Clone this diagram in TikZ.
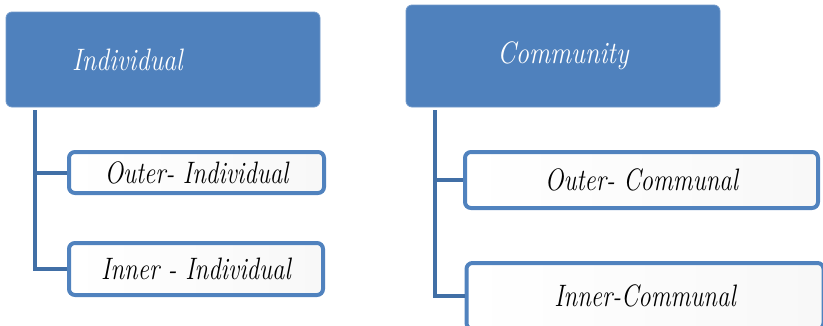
\documentclass[tikz,border=0pt]{standalone}
\begin{document}
\definecolor{headblue}{HTML}{4F81BD}
\definecolor{edgeblue}{HTML}{5082BE}
\definecolor{linkblue}{HTML}{416FA6}
\definecolor{paleright}{HTML}{F8F8F8}
% italic label, squeezed horizontally
\newcommand{\boxlabel}[2][0.85]{\fontsize{31}{34}\selectfont\itshape\scalebox{#1}[1]{#2}}
\begin{tikzpicture}[x=1pt,y=-1pt,
  headbox/.style={fill=headblue, draw=headblue!80!white, line width=0.8pt,
    rounded corners=6pt, text=white, inner sep=0pt},
  itembox/.style={draw=edgeblue, line width=4pt, rounded corners=6pt,
    left color=white, right color=paleright, inner sep=0pt, text=black},
  link/.style={draw=linkblue, line width=4pt}]
\useasboundingbox (0,0) rectangle (823,325);

% upper boxes
\node[headbox, minimum width=314pt, minimum height=95pt, text width=182pt,
  inner xsep=66pt, align=left] (ind) at (163,59.5) {\boxlabel[0.84]{Individual}};
\node[headbox, minimum width=314pt, minimum height=102pt] (com) at (563,56)
  {\boxlabel{Community}};

% lower boxes
\node[itembox, minimum width=255pt, minimum height=41pt] (oi) at (196.5,172.5)
  {\boxlabel[0.8]{Outer- Individual}};
\node[itembox, minimum width=254pt, minimum height=52pt] (ii) at (196,269)
  {\boxlabel[0.8]{Inner - Individual}};
\node[itembox, minimum width=353pt, minimum height=56pt] (oc) at (641.5,180)
  {\boxlabel[0.8]{Outer- Communal}};
\node[itembox, minimum width=357pt, minimum height=66pt] (ic) at (645,296)
  {\boxlabel[0.8]{Inner-Communal}};

% connector tops, just below the upper boxes
\coordinate (lt) at (35,110);
\coordinate (rt) at (435,110);

\draw[link] (lt) |- (oi.west);
\draw[link] (lt) |- (ii.west);
\draw[link] (rt) |- (oc.west);
\draw[link] (rt) |- (ic.west);
\end{tikzpicture}
\end{document}
